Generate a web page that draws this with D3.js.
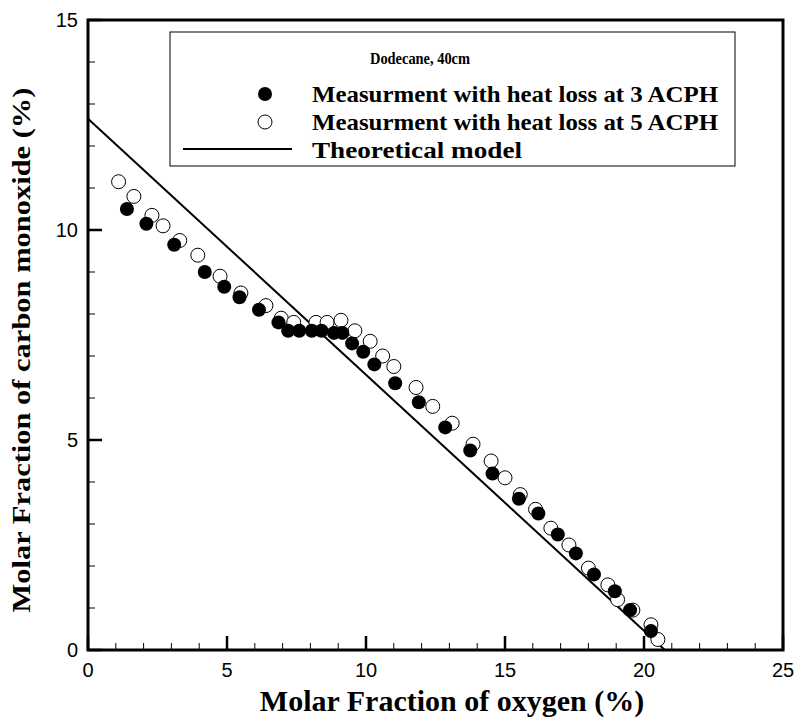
<!DOCTYPE html>
<html><head><meta charset="utf-8">
<script src="https://cdn.jsdelivr.net/npm/d3@7"></script>
<style>body{margin:0;background:#fff}</style>
</head><body>
<svg id="chart" width="795" height="719"></svg>
<script>
// data
const acph3 = [[1.4,10.5],[2.1,10.15],[3.1,9.65],[4.2,9.0],[4.9,8.65],[5.45,8.4],[6.15,8.1],[6.85,7.8],[7.2,7.6],[7.6,7.6],[8.05,7.6],[8.4,7.6],[8.85,7.55],[9.15,7.55],[9.5,7.3],[9.9,7.1],[10.3,6.8],[11.05,6.35],[11.9,5.9],[12.85,5.3],[13.75,4.75],[14.55,4.2],[15.5,3.6],[16.2,3.25],[16.9,2.75],[17.55,2.3],[18.2,1.8],[18.95,1.4],[19.5,0.95],[20.25,0.45]];
const acph5 = [[1.1,11.15],[1.65,10.8],[2.3,10.35],[2.7,10.1],[3.3,9.75],[3.95,9.4],[4.75,8.9],[5.5,8.5],[6.4,8.2],[6.95,7.9],[7.4,7.8],[8.2,7.8],[8.6,7.8],[9.1,7.85],[9.6,7.6],[10.15,7.35],[10.6,7.0],[11.0,6.75],[11.8,6.25],[12.4,5.8],[13.1,5.4],[13.85,4.9],[14.5,4.5],[15.0,4.1],[15.55,3.7],[16.1,3.35],[16.65,2.9],[17.3,2.5],[18.0,1.95],[18.7,1.55],[19.05,1.2],[19.6,0.95],[20.25,0.6],[20.5,0.25]];
const model = [[0,12.65],[20.75,0]];
const xTicks = [0,5,10,15,20,25];
const yTicks = [0,5,10,15];
const legendTitle = "Dodecane, 40cm";
const legendItems = ["Measurment with heat loss at 3 ACPH","Measurment with heat loss at 5 ACPH","Theoretical model"];

const L=88, R=783, T=20, B=650;
const svg=d3.select('#chart');
const x=d3.scaleLinear().domain([0,25]).range([L,R]);
const y=d3.scaleLinear().domain([0,15]).range([B,T]);
const g=svg.append('g');
const sf='Liberation Serif, Times New Roman';

// minor ticks (inward)
const minX=d3.range(0,26,1), minY=d3.range(0,16,1);
g.selectAll('.mx').data(minX).enter().append('line').attr('x1',d=>x(d)).attr('x2',d=>x(d))
 .attr('y1',B).attr('y2',d=>d%5?B-7:B-14).attr('stroke','#000').attr('stroke-width',d=>d%5?1:2.5);
g.selectAll('.my').data(minY).enter().append('line').attr('y1',d=>y(d)).attr('y2',d=>y(d))
 .attr('x1',L).attr('x2',d=>d%5?L+7:L+14).attr('stroke','#000').attr('stroke-width',d=>d%5?1:2.5);

// frame
g.append('rect').attr('x',L).attr('y',T).attr('width',R-L).attr('height',B-T)
 .attr('fill','none').attr('stroke','#000').attr('stroke-width',3);

// tick labels
g.selectAll('.xl').data(xTicks).enter().append('text').attr('x',d=>x(d)).attr('y',B+27)
 .attr('text-anchor','middle').attr('font-family','Liberation Sans, Arial').attr('font-size',20).text(d=>d);
g.selectAll('.yl').data(yTicks).enter().append('text').attr('x',L-10).attr('y',d=>y(d)+7)
 .attr('text-anchor','end').attr('font-family','Liberation Sans, Arial').attr('font-size',20).text(d=>d);

// axis titles
g.append('text').attr('x',452).attr('y',711).attr('text-anchor','middle')
 .attr('font-family',sf).attr('font-weight','bold').attr('font-size',30)
 .text('Molar Fraction of oxygen (%)');
g.append('text').attr('transform',`translate(30,350) rotate(-90)`).attr('text-anchor','middle')
 .attr('font-family',sf).attr('font-weight','bold').attr('font-size',26)
 .attr('textLength',525).attr('lengthAdjust','spacingAndGlyphs')
 .text('Molar Fraction of carbon monoxide (%)');

// model line
g.append('path').datum(model).attr('d',d3.line().x(d=>x(d[0])).y(d=>y(d[1])))
 .attr('stroke','#000').attr('stroke-width',2).attr('fill','none');

// points
g.selectAll('.p5').data(acph5).enter().append('circle').attr('cx',d=>x(d[0])).attr('cy',d=>y(d[1]))
 .attr('r',7).attr('fill','#fff').attr('stroke','#000').attr('stroke-width',1);
g.selectAll('.p3').data(acph3).enter().append('circle').attr('cx',d=>x(d[0])).attr('cy',d=>y(d[1]))
 .attr('r',7).attr('fill','#000');

// legend
const lg=g.append('g');
lg.append('rect').attr('x',170).attr('y',32).attr('width',565).attr('height',134)
 .attr('fill','#fff').attr('stroke','#000').attr('stroke-width',1);
lg.append('text').attr('x',370).attr('y',64).attr('font-family',sf).attr('font-weight','bold').attr('font-size',17)
 .attr('textLength',100).attr('lengthAdjust','spacingAndGlyphs').text(legendTitle);
const ly=[102,130,158];
lg.append('circle').attr('cx',265).attr('cy',ly[0]-8).attr('r',7).attr('fill','#000');
lg.append('circle').attr('cx',265).attr('cy',ly[1]-8).attr('r',7).attr('fill','#fff').attr('stroke','#000');
lg.append('line').attr('x1',183).attr('x2',292).attr('y1',ly[2]-9).attr('y2',ly[2]-9).attr('stroke','#000').attr('stroke-width',2);
legendItems.forEach((t,i)=>lg.append('text').attr('x',312).attr('y',ly[i]).attr('font-family',sf)
 .attr('font-weight','bold').attr('font-size',24).attr('textLength',t.length>20?406:210).attr('lengthAdjust','spacingAndGlyphs').text(t));
</script>
</body></html>
